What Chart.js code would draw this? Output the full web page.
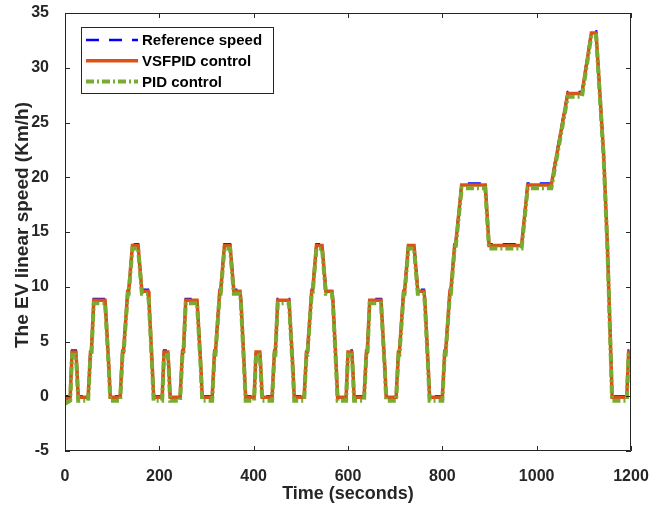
<!DOCTYPE html>
<html lang="en">
  <head>
    <meta charset="UTF-8" />
    <title>EV speed</title>
    <script src="https://cdn.jsdelivr.net/npm/chart.js@4"></script>
    <style>
      body {
        margin: 0;
        background: #fff;
      }
      .chart-box {
        width: 651px;
        height: 506px;
      }
    </style>
  </head>
  <body>
    <div class="chart-box">
      <canvas id="myChart" width="651" height="506"></canvas>
    </div>
    <script>
      // time breakpoints (s): 4 urban cycles, extra-urban part, start of next cycle
      const timeSec = [
        0, 11, 15, 23, 25, 28, 49, 54, 56, 61, 85, 93, 96, 117, 122, 124, 133, 135, 143, 155, 163, 176, 178, 185, 188,
        195, 206, 210, 218, 220, 223, 244, 249, 251, 256, 280, 288, 291, 312, 317, 319, 328, 330, 338, 350, 358, 371, 373, 380, 383,
        390, 401, 405, 413, 415, 418, 439, 444, 446, 451, 475, 483, 486, 507, 512, 514, 523, 525, 533, 545, 553, 566, 568, 575, 578,
        585, 596, 600, 608, 610, 613, 634, 639, 641, 646, 670, 678, 681, 702, 707, 709, 718, 720, 728, 740, 748, 761, 763, 770, 773,
        780, 800, 805, 807, 816, 818, 826, 828, 841, 891, 899, 968, 981, 1031, 1066, 1096, 1116, 1126, 1142, 1150, 1160,
        1180, 1191, 1195, 1200,
      ];
      const refSpeed = [
        0, 0, 4.17, 4.17, 2.78, 0, 0, 4.17, 4.17, 8.89, 8.89, 2.78, 0, 0, 4.17, 4.17, 9.72, 9.72, 13.89, 13.89, 9.72, 9.72, 8.89, 2.78, 0,
        0, 0, 4.17, 4.17, 2.78, 0, 0, 4.17, 4.17, 8.89, 8.89, 2.78, 0, 0, 4.17, 4.17, 9.72, 9.72, 13.89, 13.89, 9.72, 9.72, 8.89, 2.78, 0,
        0, 0, 4.17, 4.17, 2.78, 0, 0, 4.17, 4.17, 8.89, 8.89, 2.78, 0, 0, 4.17, 4.17, 9.72, 9.72, 13.89, 13.89, 9.72, 9.72, 8.89, 2.78, 0,
        0, 0, 4.17, 4.17, 2.78, 0, 0, 4.17, 4.17, 8.89, 8.89, 2.78, 0, 0, 4.17, 4.17, 9.72, 9.72, 13.89, 13.89, 9.72, 9.72, 8.89, 2.78, 0,
        0, 0, 4.17, 4.17, 9.72, 9.72, 13.89, 13.89, 19.44, 19.44, 13.89, 13.89, 19.44, 19.44, 27.78, 27.78, 33.33, 33.33, 22.22, 13.89, 0,
        0, 0, 4.17, 4.17,
      ];
      const vsfpidSpeed = [
        -0.3, -0.1, 4.05, 4.05, 2.7, -0.1, -0.1, 4.05, 4.05, 8.76, 8.76, 2.7, -0.1, -0.1, 4.05, 4.05, 9.6, 9.6, 13.76, 13.76, 9.6, 9.6, 8.76, 2.7, -0.1,
        -0.1, -0.1, 4.05, 4.05, 2.7, -0.1, -0.1, 4.05, 4.05, 8.76, 8.76, 2.7, -0.1, -0.1, 4.05, 4.05, 9.6, 9.6, 13.76, 13.76, 9.6, 9.6, 8.76, 2.7, -0.1,
        -0.1, -0.1, 4.05, 4.05, 2.7, -0.1, -0.1, 4.05, 4.05, 8.76, 8.76, 2.7, -0.1, -0.1, 4.05, 4.05, 9.6, 9.6, 13.76, 13.76, 9.6, 9.6, 8.76, 2.7, -0.1,
        -0.1, -0.1, 4.05, 4.05, 2.7, -0.1, -0.1, 4.05, 4.05, 8.76, 8.76, 2.7, -0.1, -0.1, 4.05, 4.05, 9.6, 9.6, 13.76, 13.76, 9.6, 9.6, 8.76, 2.7, -0.1,
        -0.1, -0.1, 4.05, 4.05, 9.6, 9.6, 13.76, 13.76, 19.3, 19.3, 13.76, 13.76, 19.3, 19.3, 27.64, 27.64, 33.18, 33.18, 22.1, 13.76, -0.1,
        -0.1, -0.1, 4.05, 4.05,
      ];
      const pidSpeed = [
        -0.7, -0.4, 3.8, 3.8, 2.4, -0.4, -0.4, 3.8, 3.8, 8.5, 8.5, 2.4, -0.4, -0.4, 3.8, 3.8, 9.35, 9.35, 13.5, 13.5, 9.35, 9.35, 8.5, 2.4, -0.4,
        -0.4, -0.4, 3.8, 3.8, 2.4, -0.4, -0.4, 3.8, 3.8, 8.5, 8.5, 2.4, -0.4, -0.4, 3.8, 3.8, 9.35, 9.35, 13.5, 13.5, 9.35, 9.35, 8.5, 2.4, -0.4,
        -0.4, -0.4, 3.8, 3.8, 2.4, -0.4, -0.4, 3.8, 3.8, 8.5, 8.5, 2.4, -0.4, -0.4, 3.8, 3.8, 9.35, 9.35, 13.5, 13.5, 9.35, 9.35, 8.5, 2.4, -0.4,
        -0.4, -0.4, 3.8, 3.8, 2.4, -0.4, -0.4, 3.8, 3.8, 8.5, 8.5, 2.4, -0.4, -0.4, 3.8, 3.8, 9.35, 9.35, 13.5, 13.5, 9.35, 9.35, 8.5, 2.4, -0.4,
        -0.4, -0.4, 3.8, 3.8, 9.35, 9.35, 13.5, 13.5, 19.0, 19.0, 13.5, 13.5, 19.0, 19.0, 27.35, 27.35, 32.95, 32.95, 21.8, 13.5, -0.4,
        -0.4, -0.4, 3.8, 3.8,
      ];
      const seriesNames = ["Reference speed", "VSFPID control", "PID control"];
      const xTicks = [0, 200, 400, 600, 800, 1000, 1200];
      const yTicks = [-5, 0, 5, 10, 15, 20, 25, 30, 35];

      const FONT = "'Liberation Sans', Arial, sans-serif";
      const AXIS_COLOR = "#262626";

      const toPoints = (ys) => timeSec.map((t, i) => ({ x: t, y: ys[i] }));

      // box around the axes + inward ticks (matlab style) + legend inside the plot
      const boxPlugin = {
        id: "boxPlugin",
        afterDraw(chart) {
          const c = chart.ctx;
          const a = chart.chartArea;
          const xs = chart.scales.x;
          const ys = chart.scales.y;
          c.save();
          c.strokeStyle = AXIS_COLOR;
          c.lineWidth = 1;
          c.beginPath();
          c.rect(a.left + 0.5, a.top + 0.5, a.right - a.left - 1, a.bottom - a.top - 1);
          c.stroke();
          const tl = 5;
          c.beginPath();
          xTicks.forEach((v) => {
            const px = Math.round(xs.getPixelForValue(v)) + 0.5;
            c.moveTo(px, a.bottom);
            c.lineTo(px, a.bottom - tl);
            c.moveTo(px, a.top);
            c.lineTo(px, a.top + tl);
          });
          yTicks.forEach((v) => {
            const py = Math.round(ys.getPixelForValue(v)) + 0.5;
            c.moveTo(a.left, py);
            c.lineTo(a.left + tl, py);
            c.moveTo(a.right, py);
            c.lineTo(a.right - tl, py);
          });
          c.stroke();

          // y axis title (drawn by hand so it can sit where the original is)
          c.save();
          c.translate(23, 225);
          c.rotate(-Math.PI / 2);
          c.font = "bold 19px " + FONT;
          c.fillStyle = AXIS_COLOR;
          c.textAlign = "center";
          c.textBaseline = "middle";
          c.fillText("The EV linear speed (Km/h)", 0, 0);
          c.restore();

          // legend
          const lx = 81, ly = 27, lw = 192, lh = 66;
          c.fillStyle = "#fff";
          c.fillRect(lx, ly, lw, lh);
          c.strokeStyle = AXIS_COLOR;
          c.strokeRect(lx + 0.5, ly + 0.5, lw, lh);
          c.font = "bold 15px " + FONT;
          c.textBaseline = "middle";
          chart.data.datasets.forEach((ds, i) => {
            const y = 40 + i * 20.7;
            c.save();
            c.strokeStyle = ds.borderColor;
            c.lineWidth = ds.borderWidth;
            c.setLineDash(ds.borderDash || []);
            c.beginPath();
            c.moveTo(86, y);
            c.lineTo(138, y);
            c.stroke();
            c.restore();
            c.fillStyle = "#000";
            c.fillText(ds.label, 142, y + 1);
          });
          c.restore();
        },
      };

      const ctx = document.getElementById("myChart");
      const chart = new Chart(ctx, {
        type: "line",
        data: {
          datasets: [
            {
              label: seriesNames[0],
              data: toPoints(refSpeed),
              borderColor: "#0000FF",
              borderWidth: 2.5,
              borderDash: [13, 10],
              pointRadius: 0,
              order: 3,
            },
            {
              label: seriesNames[1],
              data: toPoints(vsfpidSpeed),
              borderColor: "#D95319",
              borderWidth: 3.5,
              pointRadius: 0,
              order: 2,
            },
            {
              label: seriesNames[2],
              data: toPoints(pidSpeed),
              borderColor: "#77AC30",
              borderWidth: 4,
              borderDash: [8, 3, 2, 3],
              pointRadius: 0,
              order: 1,
            },
          ],
        },
        options: {
          responsive: false,
          animation: false,
          layout: { padding: { top: 13, right: 20, left: 0, bottom: 0 } },
          plugins: {
            legend: { display: false },
            tooltip: { enabled: false },
          },
          scales: {
            x: {
              type: "linear",
              min: 0,
              max: 1200,
              afterBuildTicks: (s) => {
                s.ticks = xTicks.map((v) => ({ value: v }));
              },
              afterFit: (s) => {
                s.height = 55;
                s.paddingLeft = 0;
                s.paddingRight = 0;
              },
              grid: { display: false },
              border: { display: false },
              ticks: {
                padding: 8,
                color: AXIS_COLOR,
                font: { family: FONT, size: 16, weight: "bold" },
                maxRotation: 0,
                callback: (v) => String(v),
              },
              title: {
                display: true,
                text: "Time (seconds)",
                color: AXIS_COLOR,
                font: { family: FONT, size: 18, weight: "bold" },
                padding: { top: 0, bottom: 1 },
              },
            },
            y: {
              min: -5,
              max: 35,
              afterBuildTicks: (s) => {
                s.ticks = yTicks.map((v) => ({ value: v }));
              },
              afterFit: (s) => {
                s.width = 65;
                s.paddingTop = 0;
                s.paddingBottom = 0;
              },
              grid: { display: false },
              border: { display: false },
              ticks: {
                padding: 8,
                color: AXIS_COLOR,
                font: { family: FONT, size: 16, weight: "bold" },
                callback: (v) => String(v),
              },
              title: { display: false },
            },
          },
        },
        plugins: [boxPlugin],
      });
    </script>
  </body>
</html>
